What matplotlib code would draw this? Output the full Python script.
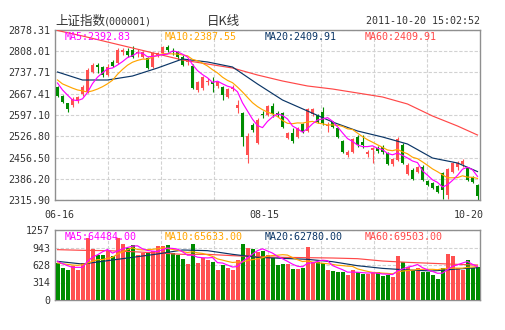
import numpy as np
import matplotlib
matplotlib.use("Agg")
import matplotlib.pyplot as plt
import matplotlib.transforms as mtransforms

# ---------------- data ----------------
x_labels = ["06-16", "08-15", "10-20"]
x_label_idx = [0, 42, 84]

opens = [2689.8, 2660.0, 2635.8, 2630.2, 2643.4, 2666.6, 2673.2, 2739.4, 2762.5, 2755.9,
         2729.4, 2772.5, 2769.1, 2805.5, 2808.8, 2812.1, 2802.2, 2789.0, 2785.7, 2755.9,
         2795.6, 2802.2, 2822.1, 2808.8, 2805.5, 2789.0, 2772.5, 2759.2, 2679.8, 2686.4,
         2706.3, 2706.3, 2693.1, 2689.8, 2656.7, 2683.1, 2620.3, 2603.7, 2464.8, 2564.0,
         2504.5, 2600.4, 2597.1, 2626.9, 2603.7, 2603.7, 2521.0, 2537.5, 2524.3, 2567.3,
         2544.2, 2600.4, 2597.1, 2607.0, 2560.7, 2573.9, 2554.1, 2511.1, 2464.8, 2474.7,
         2524.3, 2507.8, 2468.1, 2481.3, 2487.9, 2491.2, 2471.4, 2435.0, 2448.2, 2497.8,
         2401.9, 2415.1, 2408.5, 2425.1, 2378.7, 2372.1, 2362.2, 2405.2, 2332.4, 2408.5,
         2425.1, 2435.0, 2421.8, 2392.0, 2365.5]
highs = [2693.1, 2663.3, 2636.8, 2656.7, 2660.0, 2696.4, 2752.6, 2769.1, 2769.1, 2759.2,
         2765.8, 2779.1, 2818.8, 2818.8, 2818.8, 2825.4, 2815.5, 2808.8, 2789.0, 2805.5,
         2805.5, 2825.4, 2828.7, 2818.8, 2808.8, 2795.6, 2785.7, 2765.8, 2709.6, 2726.1,
         2719.5, 2722.8, 2709.6, 2693.1, 2686.4, 2696.4, 2646.7, 2607.0, 2537.5, 2570.6,
         2587.2, 2610.3, 2630.2, 2636.8, 2610.3, 2607.0, 2540.9, 2554.1, 2557.4, 2570.6,
         2620.3, 2620.3, 2600.4, 2623.6, 2573.9, 2577.2, 2557.4, 2514.4, 2481.3, 2521.0,
         2530.9, 2530.9, 2481.3, 2491.2, 2494.5, 2497.8, 2474.7, 2454.8, 2524.3, 2504.5,
         2438.3, 2421.8, 2428.4, 2431.7, 2382.1, 2375.4, 2365.5, 2408.5, 2421.8, 2441.6,
         2444.9, 2451.5, 2425.1, 2395.3, 2368.8]
lows = [2656.7, 2636.8, 2606.0, 2623.6, 2636.8, 2660.0, 2669.9, 2736.1, 2736.1, 2722.8,
        2726.1, 2755.9, 2765.8, 2795.6, 2789.0, 2785.7, 2789.0, 2785.7, 2749.3, 2752.6,
        2789.0, 2798.9, 2805.5, 2795.6, 2779.1, 2759.2, 2762.5, 2683.1, 2673.2, 2679.8,
        2696.4, 2673.2, 2686.4, 2646.7, 2653.4, 2676.5, 2603.7, 2494.5, 2438.3, 2540.9,
        2501.1, 2587.2, 2593.8, 2590.5, 2590.5, 2554.1, 2517.7, 2504.5, 2521.0, 2537.5,
        2540.9, 2593.8, 2570.6, 2564.0, 2540.9, 2554.1, 2521.0, 2471.4, 2458.1, 2471.4,
        2491.2, 2487.9, 2458.1, 2438.3, 2471.4, 2468.1, 2431.7, 2428.4, 2444.9, 2435.0,
        2398.6, 2382.1, 2405.2, 2378.7, 2362.2, 2352.3, 2339.1, 2319.2, 2319.2, 2405.2,
        2415.1, 2425.1, 2378.7, 2372.1, 2315.9]
closes = [2660.0, 2641.0, 2616.0, 2650.0, 2656.7, 2689.8, 2746.0, 2762.5, 2755.9, 2729.4,
          2755.9, 2759.2, 2812.1, 2812.1, 2795.6, 2789.0, 2805.5, 2805.5, 2752.6, 2802.2,
          2802.2, 2822.1, 2812.1, 2805.5, 2789.0, 2762.5, 2775.8, 2686.4, 2706.3, 2722.8,
          2709.6, 2699.7, 2706.3, 2663.3, 2683.1, 2686.4, 2630.2, 2524.3, 2527.6, 2547.5,
          2580.6, 2597.1, 2626.9, 2600.4, 2597.1, 2557.4, 2537.5, 2511.1, 2554.1, 2540.9,
          2617.0, 2617.0, 2573.9, 2570.6, 2564.0, 2557.4, 2524.3, 2474.7, 2474.7, 2517.7,
          2497.8, 2497.8, 2474.7, 2487.9, 2478.0, 2474.7, 2435.0, 2451.5, 2517.7, 2438.3,
          2431.7, 2385.4, 2425.1, 2382.1, 2365.5, 2355.6, 2342.4, 2349.0, 2418.4, 2438.3,
          2438.3, 2444.9, 2382.1, 2375.4, 2329.1]
volumes = [664, 575, 544, 605, 544, 664, 1113, 921, 814, 814,
           874, 784, 1113, 1011, 934, 993, 814, 844, 862, 874,
           964, 964, 993, 838, 808, 736, 641, 1000, 659, 760,
           718, 676, 539, 628, 580, 539, 718, 1000, 940, 916,
           860, 880, 808, 748, 628, 641, 645, 557, 557, 580,
           958, 688, 676, 670, 539, 521, 497, 497, 449, 539,
           509, 461, 461, 479, 497, 437, 449, 419, 796, 688,
           598, 539, 568, 509, 497, 449, 377, 580, 826, 796,
           580, 539, 718, 568, 598]

# moving-average values read where the window reaches before the first shown day
price_ma5_head = [2703, 2680, 2663, 2647]
price_ma10_head = [2713, 2700, 2693, 2686, 2680, 2677, 2673, 2677, 2683]
vol_ma5_head = [694, 652, 617, 586]
vol_ma10_head = [664, 652, 640, 628, 622, 634, 664, 694, 724]

# long moving averages every 5 sessions
ma_long_idx = [0, 5, 10, 15, 20, 25, 30, 35, 40, 45, 50, 55, 60, 65, 70, 75, 80, 84]
price_ma20 = [2739.4, 2712.9, 2712.9, 2726.1, 2752.6, 2782.4, 2772.5, 2755.9, 2699.7,
              2646.7, 2610.3, 2573.9, 2544.2, 2524.3, 2501.1, 2454.8, 2438.3, 2409.9]
price_ma60 = [2876.7, 2858.5, 2838.6, 2818.8, 2798.9, 2779.1, 2765.8, 2752.6, 2729.4,
              2709.6, 2693.1, 2683.1, 2669.9, 2656.7, 2633.5, 2593.8, 2560.7, 2530.9]
vol_ma20 = [694, 646, 706, 766, 826, 898, 886, 820, 766, 748, 730, 688, 616, 568, 539, 521, 557, 580]
vol_ma60 = [904, 892, 886, 868, 844, 820, 820, 796, 778, 766, 760, 754, 742, 700, 676, 658, 640, 628]

price_ticks = [2315.90, 2386.20, 2456.50, 2526.80, 2597.10, 2667.41, 2737.71, 2808.01, 2878.31]
price_tick_labels = ["2315.90", "2386.20", "2456.50", "2526.80", "2597.10",
                     "2667.41", "2737.71", "2808.01", "2878.31"]
vol_ticks = [0, 314.25, 628.5, 942.75, 1257]
vol_tick_labels = ["0", "314", "628", "943", "1257"]

title_name = "上证指数"
title_code = "(000001)"
title_kind = "日K线"
timestamp = "2011-10-20 15:02:52"
price_ma_labels = ["MA5:2392.83", "MA10:2387.55", "MA20:2409.91", "MA60:2409.91"]
vol_ma_labels = ["MA5:64484.00", "MA10:65633.00", "MA20:62780.00", "MA60:69503.00"]

# ---------------- styling ----------------
RED = "#FF5050"
GREEN = "#008C00"
MA_COLORS = ["#FF00FF", "#FFA500", "#0A3566", "#FF4848"]
GRID = "#D2D2D2"
FRAME = "#8F8F8F"
TXT = "#333333"
MONO = "DejaVu Sans Mono"
CJK = ["Noto Sans CJK SC", "DejaVu Sans"]
FS = 7.2

W, H = 505, 330
fig = plt.figure(figsize=(W / 100, H / 100), dpi=100)
fig.patch.set_facecolor("white")


def rect(l, t, r, b):
    return [l / W, 1 - b / H, (r - l) / W, (b - t) / H]


def ftext(xp, yp, s, **kw):
    fig.text(xp / W, 1 - yp / H, s, **kw)


def rolling(values, window, head):
    v = np.asarray(values, float)
    out = np.empty_like(v)
    out[:window - 1] = head
    out[window - 1:] = np.convolve(v, np.ones(window) / window, mode="valid")
    return out


n = len(closes)
x = np.arange(n)
o = np.array(opens); h = np.array(highs); l = np.array(lows); c = np.array(closes)
up = c >= o
cols = np.where(up, RED, GREEN)

ax = fig.add_axes(rect(55, 30, 480, 200))
axv = fig.add_axes(rect(55, 230, 480, 300))

vgrid = [-0.5 + 10.625 * k for k in range(1, 8)]

for a in (ax, axv):
    a.set_xlim(-0.5, n - 0.5)
    a.set_axisbelow(True)
    for s in a.spines.values():
        s.set_color(FRAME)
        s.set_linewidth(1.0)
    a.set_xticks(vgrid, minor=True)
    a.grid(which="minor", axis="x", color=GRID, linestyle=(0, (3, 1.6)), linewidth=0.8)
    a.grid(which="major", axis="y", color=GRID, linestyle=(0, (3, 1.6)), linewidth=0.8)
    a.tick_params(which="both", length=0)
    a.tick_params(axis="y", pad=3.6, labelsize=FS, labelcolor=TXT)

# ---- price panel ----
ax.set_ylim(price_ticks[0], price_ticks[-1])
ax.set_yticks(price_ticks)
ax.set_yticklabels(price_tick_labels, fontfamily=MONO)
ax.vlines(x, l, h, colors=cols, linewidth=0.8, zorder=2)
body = np.maximum(np.abs(c - o), 3.0)
ax.bar(x, body, bottom=np.minimum(o, c), width=0.76, color=cols, linewidth=0, zorder=3)

ma5 = rolling(closes, 5, price_ma5_head)
ma10 = rolling(closes, 10, price_ma10_head)
ax.plot(ma_long_idx, price_ma60, color=MA_COLORS[3], lw=0.85, zorder=4)
ax.plot(ma_long_idx, price_ma20, color=MA_COLORS[2], lw=0.85, zorder=4)
ax.plot(x, ma10, color=MA_COLORS[1], lw=0.85, zorder=5)
ax.plot(x, ma5, color=MA_COLORS[0], lw=0.85, zorder=5)

ax.set_xticks(x_label_idx)
ax.set_xticklabels(x_labels, fontfamily=MONO, fontsize=FS, color=TXT)
ax.tick_params(axis="x", pad=7.5)
for lab, dx in zip(ax.get_xticklabels(), [2.0, -3.0, -8.5]):
    lab.set_transform(lab.get_transform() +
                      mtransforms.ScaledTranslation(dx / 100, 0, fig.dpi_scale_trans))

# ---- volume panel ----
axv.set_ylim(vol_ticks[0], vol_ticks[-1])
axv.set_yticks(vol_ticks)
axv.set_yticklabels(vol_tick_labels, fontfamily=MONO)
axv.set_xticks([])
axv.bar(x, volumes, width=0.8, color=cols, linewidth=0, zorder=3)
vma5 = rolling(volumes, 5, vol_ma5_head)
vma10 = rolling(volumes, 10, vol_ma10_head)
axv.plot(ma_long_idx, vol_ma60, color=MA_COLORS[3], lw=0.85, zorder=4)
axv.plot(ma_long_idx, vol_ma20, color=MA_COLORS[2], lw=0.85, zorder=4)
axv.plot(x, vma10, color=MA_COLORS[1], lw=0.85, zorder=5)
axv.plot(x, vma5, color=MA_COLORS[0], lw=0.85, zorder=5)

# ---- texts ----
ftext(55, 21.5, title_name, family=CJK, fontsize=9, color=TXT, va="center", ha="left")
ftext(104, 21.5, title_code, family=MONO, fontsize=FS, color=TXT, va="center", ha="left")
ftext(207, 21.5, title_kind, family=CJK, fontsize=9, color=TXT, va="center", ha="left")
ftext(480, 21.5, timestamp, family=MONO, fontsize=FS, color=TXT, va="center", ha="right")

for k, (s, col) in enumerate(zip(price_ma_labels, MA_COLORS)):
    ftext(65 + 100 * k, 37, s, family=MONO, fontsize=FS, color=col, va="center", ha="left", zorder=10)
for k, (s, col) in enumerate(zip(vol_ma_labels, MA_COLORS)):
    ftext(65 + 100 * k, 237, s, family=MONO, fontsize=FS, color=col, va="center", ha="left", zorder=10)

fig.savefig("out.png", dpi=100, facecolor="white")
